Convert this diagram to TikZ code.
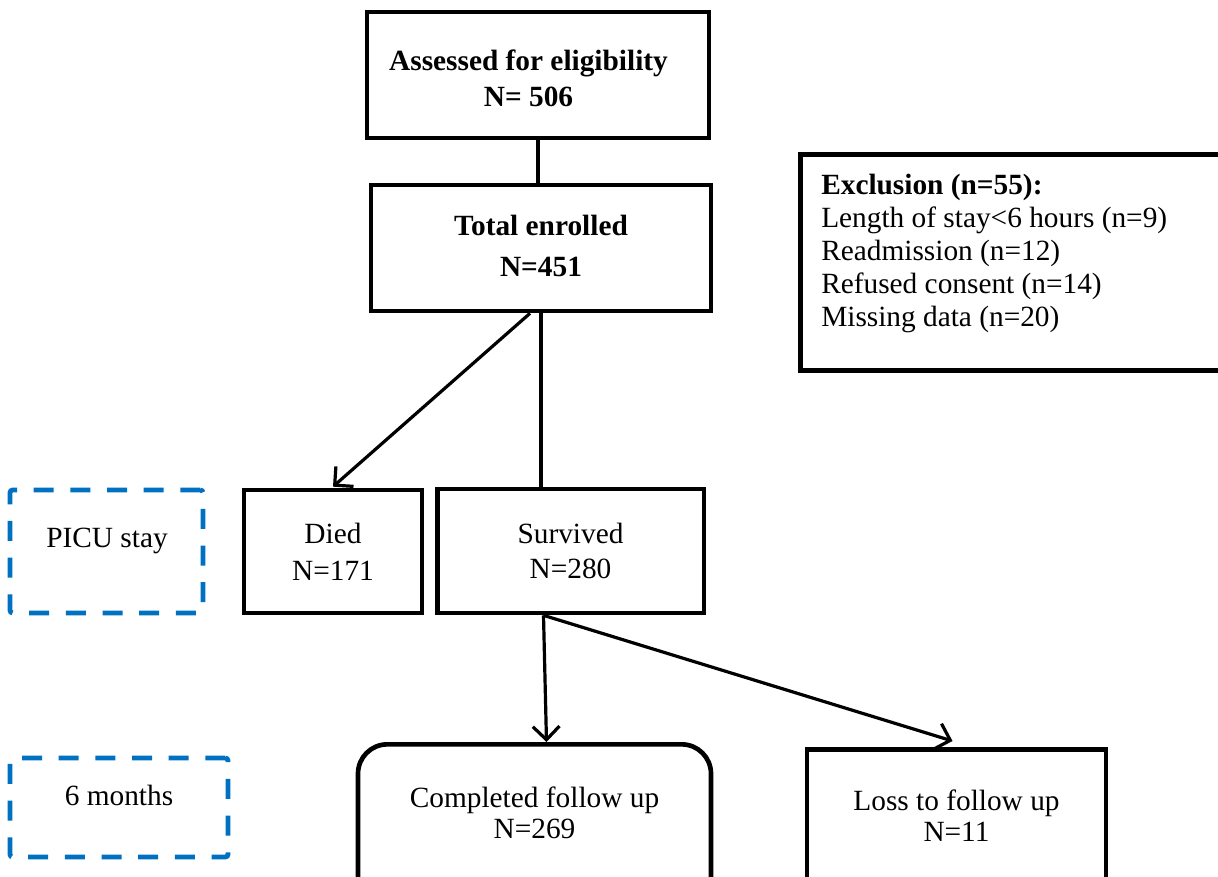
\documentclass[tikz,border=0pt]{standalone}
\usepackage{fontspec}
\setmainfont{Liberation Serif}
\usetikzlibrary{arrows.meta,calc}
\definecolor{dashblue}{HTML}{0070C0}
\begin{document}
\begin{tikzpicture}[x=0.75pt,y=-0.75pt,
  every node/.style={font=\fontsize{22}{27}\selectfont},
  box/.style={draw=black,line width=3.5pt,rectangle,align=center,inner sep=0pt},
  roundbox/.style={box,rounded corners=22pt},
  phase/.style={draw=dashblue,line width=3.6pt,dash pattern=on 15pt off 12.5pt,rectangle,align=center,inner sep=0pt,rounded corners=2pt},
  txt/.style={align=center,inner sep=0pt},
  conn/.style={line width=2.4pt},
  arr/.style={conn,-{Straight Barb[length=10pt,width=20pt,line width=2.4pt]}}
]
\useasboundingbox (0,0) rectangle (1218,877);
\clip (0,0) rectangle (1218,877);

\node[box,minimum width=256.5pt,minimum height=94.5pt] (assessed) at (538,75) {};
\node[txt,font=\bfseries\fontsize{22}{27}\selectfont] (assessedtext) at (528.5,78)
  {Assessed for eligibility\\N= 506};
\node[box,minimum width=255pt,minimum height=94.5pt] (enrolled) at (541,248) {};
\node[txt,font=\bfseries\fontsize{22}{27}\selectfont] (enrolledtext) at (541,246)
  {Total enrolled\\[4.25pt]N=451};

\node[box,minimum width=330pt,minimum height=162pt,anchor=north west] (excl) at (798,152) {};
\node[anchor=north west,align=left,inner sep=0pt,font=\fontsize{22}{24.75}\selectfont] (excltext) at (821,174)
  {\textbf{Exclusion (n=55):}\\Length of stay<6 hours (n=9)\\Readmission (n=12)\\Refused consent (n=14)\\Missing data (n=20)};

\node[box,minimum width=133.5pt,minimum height=92.25pt] (died) at (333,551.5)
  {Died\\[1pt]N=171};
\node[box,minimum width=200pt,minimum height=93pt] (survived) at (570.5,551)
  {Survived\\[-0.5pt]N=280};

\node[phase,minimum width=144.75pt,minimum height=92.25pt] (picu) at (106.5,551.5) {};
\node[txt] (picutext) at (107,541) {PICU stay};
\node[phase,minimum width=163.5pt,minimum height=74.25pt] (sixm) at (119,807.5) {};
\node[txt] (sixmtext) at (119,795) {6 months};

\node[roundbox,minimum width=264.75pt,minimum height=120pt,anchor=north] (completed) at (534.5,742) {};
\node[txt] (completedtext) at (534.5,813) {Completed follow up\\[-3.5pt]N=269};
\node[box,minimum width=224.25pt,minimum height=120pt,anchor=north] (loss) at (956.5,747) {};
\node[txt] (losstext) at (956.5,816) {Loss to follow up\\[-3.5pt]N=11};

\draw[conn] (assessed.south) -- (assessed.south |- enrolled.north);
\draw[conn] (enrolled.south) -- (enrolled.south |- survived.north);
\draw[arr] ($(enrolled.south)+(-11,0)$) -- ($(died.north)+(0,-1)$);
\draw[arr] ($(survived.south)+(-27,0)$) -- ($(completed.north)+(12,0)$);
\draw[arr] ($(survived.south)+(-27,0)$) -- ($(loss.north)+(-4,-6)$);
\end{tikzpicture}
\end{document}
